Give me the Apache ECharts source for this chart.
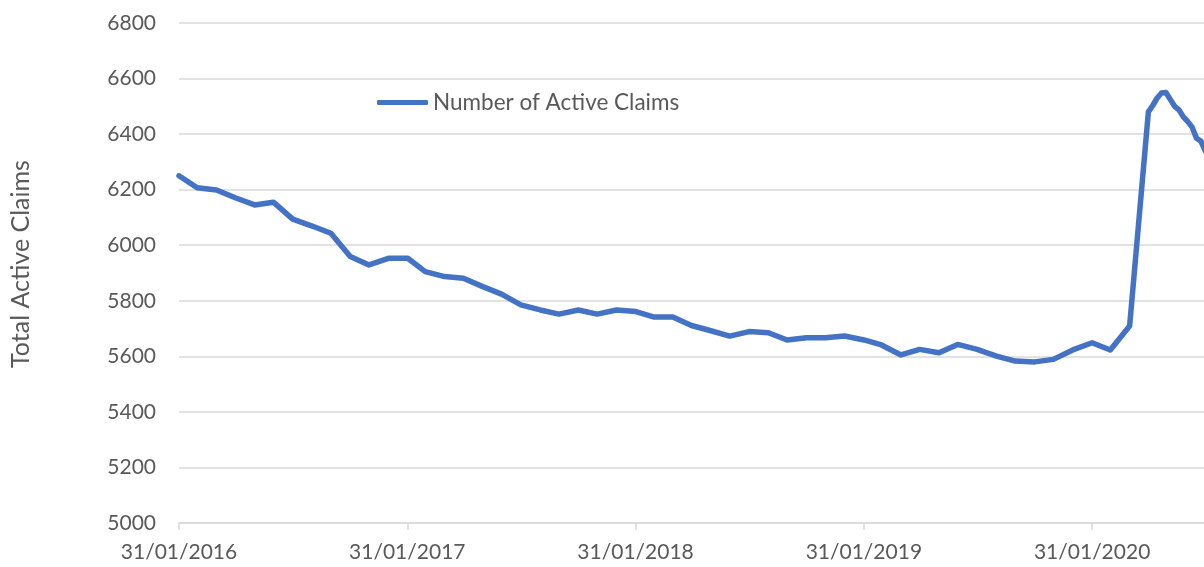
<!DOCTYPE html>
<html>
<head>
<meta charset="utf-8">
<script src="https://cdn.jsdelivr.net/npm/echarts@6/dist/echarts.min.js"></script>
<style>
  html, body { margin: 0; padding: 0; background: #ffffff; }
  #chart { width: 1204px; height: 567px; }
</style>
</head>
<body>
<div id="chart"></div>
<script>
// ---- data ----
const seriesName = 'Number of Active Claims';
const dates = [
  '2016-01-31','2016-02-29','2016-03-31','2016-04-30','2016-05-31','2016-06-30',
  '2016-07-31','2016-08-31','2016-09-30','2016-10-31','2016-11-30','2016-12-31',
  '2017-01-31','2017-02-28','2017-03-31','2017-04-30','2017-05-31','2017-06-30',
  '2017-07-31','2017-08-31','2017-09-30','2017-10-31','2017-11-30','2017-12-31',
  '2018-01-31','2018-02-28','2018-03-31','2018-04-30','2018-05-31','2018-06-30',
  '2018-07-31','2018-08-31','2018-09-30','2018-10-31','2018-11-30','2018-12-31',
  '2019-01-31','2019-02-28','2019-03-31','2019-04-30','2019-05-31','2019-06-30',
  '2019-07-31','2019-08-31','2019-09-30','2019-10-31','2019-11-30','2019-12-31',
  '2020-01-31','2020-02-29','2020-03-31','2020-04-30',
  '2020-05-07','2020-05-14','2020-05-21','2020-05-28','2020-06-04','2020-06-11',
  '2020-06-18','2020-06-25','2020-07-02','2020-07-09','2020-07-16','2020-07-23',
  '2020-07-30'
];
const activeClaims = [
  6250, 6207, 6199, 6171, 6145, 6155,
  6094, 6069, 6043, 5959, 5929, 5953,
  5953, 5905, 5887, 5881, 5851, 5824,
  5785, 5767, 5752, 5767, 5752, 5767,
  5761, 5742, 5742, 5711, 5692, 5673,
  5689, 5685, 5659, 5667, 5667, 5673,
  5659, 5641, 5605, 5625, 5613, 5643,
  5625, 5601, 5583, 5580, 5589, 5623,
  5649, 5623, 5709, 6480,
  6503, 6530, 6548, 6550, 6525, 6500,
  6487, 6462, 6445, 6425, 6385, 6375,
  6340
];
const tickLabels = ['31/01/2016','31/01/2017','31/01/2018','31/01/2019','31/01/2020'];
const startDate = '2016-01-31';
const endDate = '2020-07-28';

// ---- build ----
const DAY = 86400000;
const YEAR_DAYS = 365.25;
const t0 = Date.parse(startDate);
const dayOf = d => (Date.parse(d) - t0) / DAY;
const points = dates.map((d, i) => [dayOf(d), activeClaims[i]]);

const textColor = '#595959';
const font = 'Lato, "Open Sans", sans-serif';

const chart = echarts.init(document.getElementById('chart'), null, { renderer: 'canvas' });
chart.setOption({
  animation: false,
  backgroundColor: '#ffffff',
  grid: { left: 178, right: 0, top: 23, bottom: 44, containLabel: false },
  legend: {
    show: true,
    left: 377,
    top: 91,
    padding: 0,
    icon: 'roundRect',
    itemWidth: 51,
    itemHeight: 5,
    textStyle: { color: textColor, fontSize: 22.5, fontFamily: font },
    data: [seriesName]
  },
  xAxis: {
    type: 'value',
    min: 0,
    max: dayOf(endDate),
    interval: YEAR_DAYS,
    axisLine: { show: true, lineStyle: { color: '#d9d9d9', width: 1.5 } },
    axisTick: { show: true, length: 7, inside: false, lineStyle: { color: '#d9d9d9', width: 1.5 } },
    axisLabel: {
      color: textColor, fontSize: 21, fontFamily: font, margin: 19,
      showMaxLabel: false,
      formatter: v => {
        const k = Math.round(v / YEAR_DAYS);
        return (Math.abs(v - k * YEAR_DAYS) < 1 && tickLabels[k]) ? tickLabels[k] : '';
      }
    },
    splitLine: { show: false }
  },
  yAxis: {
    type: 'value',
    min: 5000,
    max: 6800,
    interval: 200,
    name: 'Total Active Claims',
    nameLocation: 'middle',
    nameGap: 146,
    nameTextStyle: { color: textColor, fontSize: 25, fontFamily: font, padding: [0, 0, 0, 18] },
    axisLine: { show: false },
    axisTick: { show: false },
    axisLabel: { color: textColor, fontSize: 21, fontFamily: font, margin: 23, formatter: v => String(v) },
    splitLine: { show: true, lineStyle: { color: '#d9d9d9', width: 1.5 } }
  },
  series: [{
    name: seriesName,
    type: 'line',
    data: points,
    showSymbol: false,
    symbol: 'none',
    clip: true,
    lineStyle: { color: '#4472C4', width: 5.5, join: 'round', cap: 'round' },
    itemStyle: { color: '#4472C4' }
  }]
});
</script>
</body>
</html>
